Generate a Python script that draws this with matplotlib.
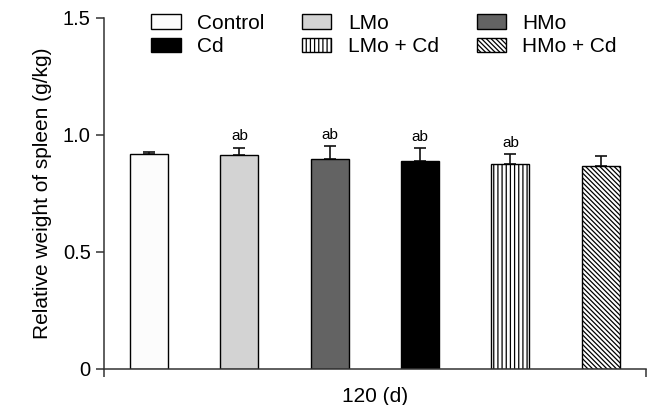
import matplotlib.pyplot as plt
from matplotlib.patches import Patch

plt.rcParams['font.family'] = ['Liberation Sans', 'DejaVu Sans']
plt.rcParams['hatch.linewidth'] = 0.9

# data
groups = ["Control", "LMo", "HMo", "Cd", "LMo + Cd", "HMo + Cd"]
means = [0.92, 0.912, 0.897, 0.889, 0.876, 0.869]
errors = [0.005, 0.034, 0.056, 0.054, 0.041, 0.041]
marks = ["", "ab", "ab", "ab", "ab", ""]

# styles
colors = ["#fcfcfc", "#d3d3d3", "#636363", "#000000", "white", "white"]
hatches = ["", "", "", "", "||||", "\\" * 7]

fig = plt.figure(figsize=(6.53, 4.05), dpi=100)
ax = fig.add_axes([0.159, 0.089, 0.83, 0.867])

x = list(range(len(groups)))
for i in x:
    ax.bar(i, means[i], width=0.42, color=colors[i], edgecolor="black",
           linewidth=1.0, hatch=hatches[i], zorder=2)
    ax.errorbar(i, means[i], yerr=[[0], [errors[i]]], fmt="none",
                ecolor="#111111", elinewidth=1.2, capsize=4, capthick=1.2, zorder=1)
    if marks[i]:
        ax.annotate(marks[i], (i, means[i] + errors[i]), xytext=(0, 3),
                    textcoords="offset points", ha="center", va="bottom", fontsize=11)

ax.set_xlim(-0.5, 5.5)
ax.set_ylim(0, 1.5)
ax.set_yticks([0, 0.5, 1.0, 1.5])
ax.set_yticklabels(["0", "0.5", "1.0", "1.5"], fontsize=14.5)
ax.set_xticks([-0.5, 5.5])
ax.set_xticklabels(["", ""])
ax.tick_params(axis="both", direction="out", length=5.5, width=1.1, color="#333333")
ax.tick_params(axis="y", pad=4)

for s in ["top", "right"]:
    ax.spines[s].set_visible(False)
for s in ["left", "bottom"]:
    ax.spines[s].set_linewidth(1.1)
    ax.spines[s].set_color("#333333")

ax.set_ylabel("Relative weight of spleen (g/kg)", fontsize=15, labelpad=8)
ax.set_xlabel("120 (d)", fontsize=15, labelpad=4)

# legend (column-wise order)
handles = [Patch(facecolor=colors[i], edgecolor="black", hatch=hatches[i], linewidth=1.0,
                 label=groups[i]) for i in x]
order = [0, 3, 1, 4, 2, 5]
fig.legend([handles[i] for i in order], [groups[i] for i in order], ncol=3,
           loc="upper left", bbox_to_anchor=(0.232, 0.965), frameon=False, fontsize=15,
           handlelength=1.4, handleheight=0.72, handletextpad=0.8, columnspacing=1.8,
           labelspacing=0.2, borderpad=0, borderaxespad=0)

fig.savefig("out.png", dpi=100)
